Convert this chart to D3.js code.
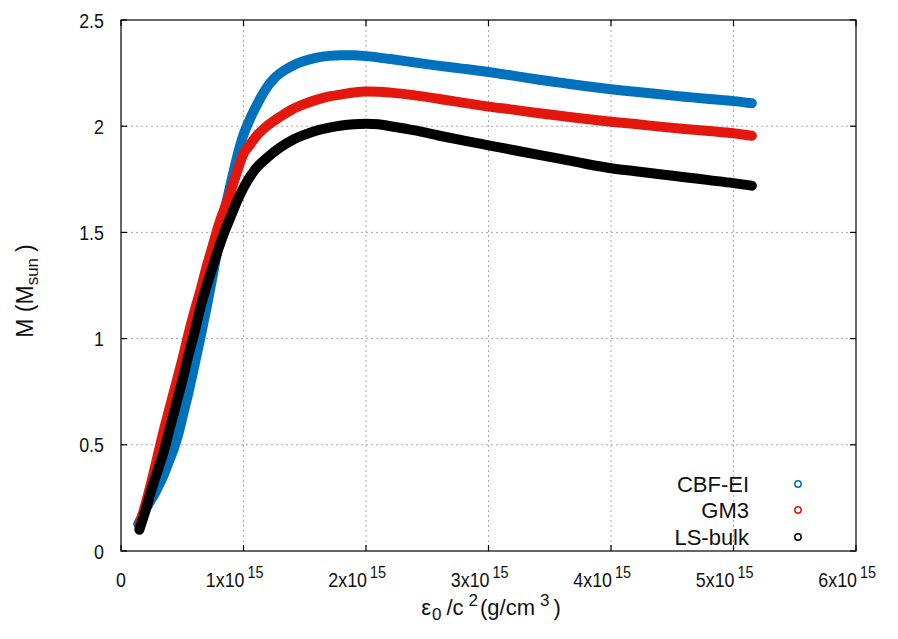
<!DOCTYPE html>
<html>
<head>
<meta charset="utf-8">
<script src="https://cdn.jsdelivr.net/npm/d3@7"></script>
<style>
  html, body { margin: 0; padding: 0; background: #fff; }
  svg { display: block; font-family: "Liberation Sans", Arial, sans-serif; }
</style>
</head>
<body>
<svg id="chart" width="898" height="639"></svg>
<script>
// Central energy density (units of 1e15 g/cm^3) and stellar mass (M_sun)
const cbfX = [0.14, 0.17, 0.20, 0.24, 0.28, 0.31, 0.35, 0.39, 0.43, 0.47, 0.51, 0.55, 0.60, 0.65, 0.70, 0.75, 0.80, 0.85, 0.90, 0.95, 1.00, 1.05, 1.10, 1.15, 1.20, 1.25, 1.30, 1.40, 1.50, 1.60, 1.70, 1.80, 1.90, 2.00, 2.20, 2.40, 2.60, 2.80, 3.00, 3.20, 3.40, 3.60, 3.80, 4.00, 4.20, 4.40, 4.60, 4.80, 5.00, 5.15];
const cbfM = [0.127, 0.16, 0.195, 0.235, 0.275, 0.31, 0.36, 0.42, 0.48, 0.555, 0.65, 0.745, 0.875, 1.01, 1.15, 1.30, 1.46, 1.61, 1.74, 1.86, 1.96, 2.03, 2.09, 2.145, 2.19, 2.225, 2.25, 2.285, 2.308, 2.323, 2.331, 2.334, 2.334, 2.330, 2.316, 2.300, 2.284, 2.270, 2.255, 2.238, 2.220, 2.204, 2.188, 2.174, 2.162, 2.150, 2.139, 2.128, 2.118, 2.108];

const gm3X = [0.15, 0.20, 0.25, 0.30, 0.35, 0.40, 0.45, 0.50, 0.55, 0.60, 0.65, 0.70, 0.75, 0.80, 0.85, 0.90, 0.95, 1.00, 1.05, 1.10, 1.20, 1.30, 1.40, 1.50, 1.60, 1.70, 1.80, 1.90, 2.00, 2.10, 2.20, 2.40, 2.60, 2.80, 3.00, 3.20, 3.40, 3.60, 3.80, 4.00, 4.20, 4.40, 4.60, 4.80, 5.00, 5.15];
const gm3M = [0.12, 0.22, 0.33, 0.45, 0.57, 0.68, 0.79, 0.90, 1.02, 1.13, 1.23, 1.34, 1.44, 1.54, 1.62, 1.70, 1.79, 1.87, 1.91, 1.95, 2.005, 2.045, 2.08, 2.105, 2.125, 2.140, 2.150, 2.159, 2.163, 2.162, 2.158, 2.145, 2.128, 2.110, 2.092, 2.078, 2.062, 2.048, 2.034, 2.021, 2.010, 1.998, 1.987, 1.977, 1.967, 1.955];

const lsX = [0.15, 0.20, 0.25, 0.30, 0.35, 0.40, 0.45, 0.50, 0.55, 0.60, 0.65, 0.70, 0.75, 0.80, 0.85, 0.90, 0.95, 1.00, 1.10, 1.20, 1.30, 1.40, 1.50, 1.60, 1.70, 1.80, 1.90, 2.00, 2.10, 2.20, 2.40, 2.60, 2.80, 3.00, 3.20, 3.40, 3.60, 3.80, 4.00, 4.20, 4.40, 4.60, 4.80, 5.00, 5.15];
const lsM = [0.10, 0.19, 0.29, 0.38, 0.47, 0.58, 0.69, 0.80, 0.92, 1.03, 1.15, 1.25, 1.34, 1.43, 1.51, 1.58, 1.65, 1.71, 1.80, 1.855, 1.90, 1.935, 1.96, 1.98, 1.993, 2.003, 2.009, 2.011, 2.009, 2.000, 1.980, 1.955, 1.932, 1.910, 1.888, 1.866, 1.845, 1.822, 1.802, 1.788, 1.774, 1.760, 1.746, 1.732, 1.720];

const seriesNames = ["CBF-EI", "GM3", "LS-bulk"];
const seriesColors = ["#0072bd", "#e3170d", "#000000"];
const xTicks = [0, 1, 2, 3, 4, 5, 6];
const yTicks = [0, 0.5, 1, 1.5, 2, 2.5];

const series = [
  { name: seriesNames[0], color: seriesColors[0], pts: cbfX.map((x, i) => [x, cbfM[i]]) },
  { name: seriesNames[1], color: seriesColors[1], pts: gm3X.map((x, i) => [x, gm3M[i]]) },
  { name: seriesNames[2], color: seriesColors[2], pts: lsX.map((x, i) => [x, lsM[i]]) }
];

const svg = d3.select("#chart");
const plot = { left: 121, right: 856, top: 20, bottom: 551 };

const x = d3.scaleLinear().domain([0, 6]).range([plot.left, plot.right]);
const y = d3.scaleLinear().domain([0, 2.5]).range([plot.bottom, plot.top]);

// dotted grid
const grid = svg.append("g").attr("stroke", "#a8a8a8").attr("stroke-width", 1).attr("stroke-dasharray", "2,3");
xTicks.slice(1, -1).forEach(t => {
  grid.append("line").attr("x1", x(t)).attr("x2", x(t)).attr("y1", plot.top).attr("y2", plot.bottom);
});
yTicks.slice(1, -1).forEach(t => {
  grid.append("line").attr("x1", plot.left).attr("x2", plot.right).attr("y1", y(t)).attr("y2", y(t));
});

// curves: dense point band plus open-circle markers
const line = d3.line().x(d => x(d[0])).y(d => y(d[1])).curve(d3.curveMonotoneX);
series.forEach(s => {
  svg.append("path")
    .attr("d", line(s.pts))
    .attr("fill", "none")
    .attr("stroke", s.color)
    .attr("stroke-width", 10)
    .attr("stroke-linecap", "round")
    .attr("stroke-linejoin", "round");
  svg.append("g").selectAll("circle").data(s.pts).join("circle")
    .attr("cx", d => x(d[0]))
    .attr("cy", d => y(d[1]))
    .attr("r", 3.2)
    .attr("fill", "none")
    .attr("stroke", s.color)
    .attr("stroke-width", 1.5);
});

// axes with inward ticks on all sides
const tickLen = 6;
const axes = svg.append("g").attr("stroke", "#000").attr("stroke-width", 1.2);
xTicks.forEach(t => {
  axes.append("line").attr("x1", x(t)).attr("x2", x(t)).attr("y1", plot.bottom).attr("y2", plot.bottom - tickLen);
  axes.append("line").attr("x1", x(t)).attr("x2", x(t)).attr("y1", plot.top).attr("y2", plot.top + tickLen);
});
yTicks.forEach(t => {
  axes.append("line").attr("x1", plot.left).attr("x2", plot.left + tickLen).attr("y1", y(t)).attr("y2", y(t));
  axes.append("line").attr("x1", plot.right).attr("x2", plot.right - tickLen).attr("y1", y(t)).attr("y2", y(t));
});
axes.append("rect")
  .attr("x", plot.left).attr("y", plot.top)
  .attr("width", plot.right - plot.left).attr("height", plot.bottom - plot.top)
  .attr("fill", "none");

// tick labels (slightly condensed face)
const fs = 21;
const squeeze = 0.85;
function tickText(px, py, anchor, size, str) {
  return svg.append("text")
    .attr("transform", `translate(${px},${py}) scale(${squeeze},1)`)
    .attr("text-anchor", anchor).attr("font-size", size).attr("fill", "#111")
    .text(str);
}
yTicks.forEach(t => {
  tickText(plot.left - 17, y(t) + 7.5, "end", fs, d3.format("")(t));
});
xTicks.forEach(t => {
  if (t === 0) {
    tickText(x(t), 587, "middle", fs, "0");
  } else {
    tickText(x(t) + 1, 587, "end", fs, t + "x10");
    tickText(x(t) + 4, 578, "start", 17, "15");
  }
});

// axis titles
const xt = svg.append("text")
  .attr("x", 491).attr("y", 615)
  .attr("text-anchor", "middle").attr("font-size", 22).attr("fill", "#111");
xt.append("tspan").text("\u03b5");
xt.append("tspan").attr("dx", 1).attr("dy", 5).attr("font-size", 17).text("0");
xt.append("tspan").attr("dx", 5).attr("dy", -5).text("/c");
xt.append("tspan").attr("dx", 5).attr("dy", -9).attr("font-size", 17).text("2");
xt.append("tspan").attr("dx", 2).attr("dy", 9).text("(g/cm");
xt.append("tspan").attr("dx", 5).attr("dy", -9).attr("font-size", 17).text("3");
xt.append("tspan").attr("dx", 4).attr("dy", 9).text(")");

const yt = svg.append("text")
  .attr("transform", "translate(33,291) rotate(-90)")
  .attr("text-anchor", "middle").attr("font-size", 23).attr("fill", "#111");
yt.append("tspan").text("M (M");
yt.append("tspan").attr("dy", 5).attr("font-size", 17).text("sun");
yt.append("tspan").attr("dx", 6).attr("dy", -5).text(")");

// legend
const legendY = [484, 510, 537];
series.forEach((s, i) => {
  svg.append("text")
    .attr("x", 749).attr("y", legendY[i] + 8)
    .attr("text-anchor", "end").attr("font-size", 22).attr("fill", "#111")
    .text(s.name);
  svg.append("circle")
    .attr("cx", 798).attr("cy", legendY[i])
    .attr("r", 3.2)
    .attr("fill", "none").attr("stroke", s.color).attr("stroke-width", 1.5);
});
</script>
</body>
</html>
